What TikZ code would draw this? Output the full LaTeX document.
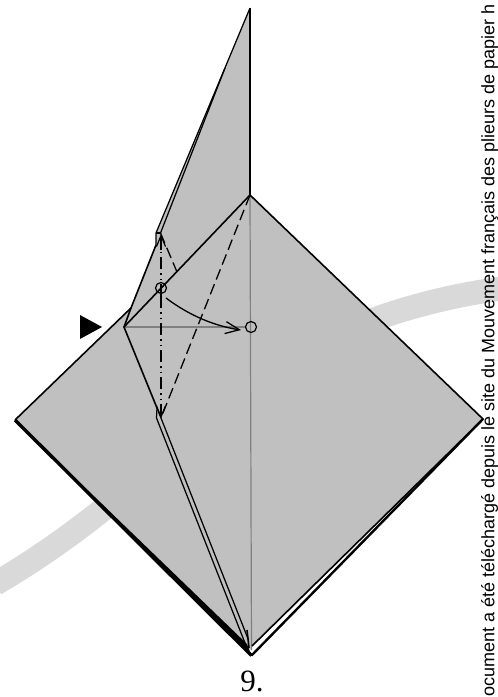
\documentclass[tikz,border=0pt]{standalone}
\usepackage{fontspec}
\setmainfont{Liberation Serif}
\newfontfamily\sidefont{Liberation Sans}
\usetikzlibrary{arrows.meta}
\definecolor{paper}{HTML}{C0C0C0}
\definecolor{band}{HTML}{D9D9D9}
\definecolor{crease}{HTML}{808080}
\tikzset{
  edge/.style={draw=black,line width=1.6pt,line join=miter},
  fine edge/.style={draw=black,line width=1.25pt,line join=miter},
  thick edge/.style={draw=black,line width=2.4pt},
  heavy edge/.style={draw=black,line width=3.4pt},
  xray/.style={draw=crease,line width=1.2pt},
  valley/.style={draw=black,line width=1.3pt,dash pattern=on 11pt off 5pt},
  mountain/.style={draw=black,line width=1.2pt,dash pattern=on 12pt off 4pt on 1.5pt off 4pt on 1.5pt off 4pt},
  ref mark/.style={circle,draw=black,line width=1.2pt,minimum size=11pt,inner sep=0pt},
  barb/.style={-{Straight Barb[length=11pt,width=9pt,line width=1.2pt]}},
  big barb/.style={-{Straight Barb[length=14pt,width=12pt,line width=1.3pt]}},
}
\begin{document}
\begin{tikzpicture}[x=1pt,y=-1pt]
\useasboundingbox (0,0) rectangle (498,697);
\begin{scope}
\clip (0,0) rectangle (498,697);
\draw[band,line width=24pt] (-5,584) .. controls (90,528) and (150,470) .. (230,400) .. controls (290,350) and (380,305) .. (505,288);
\coordinate (top) at (250,8);
\coordinate (cen) at (250,195);
\coordinate (R) at (483,419);
\coordinate (B) at (251.5,655.5);
\coordinate (Bi) at (252,646);
\coordinate (L) at (15,420);
\coordinate (P) at (124,327);
\coordinate (Q) at (131,308);
\coordinate (U1) at (156,245);
\coordinate (U2) at (156,233);
\coordinate (U3) at (160.5,233);
\coordinate (U4) at (225,68);
\coordinate (D1) at (157,408);
\coordinate (D2) at (156.5,418);
\coordinate (D3) at (161,418);
\coordinate (E1) at (245,643);
\coordinate (E2) at (248.5,640);
\coordinate (E3) at (247,630);
\coordinate (E4) at (249,648);
\fill[paper] (top) -- (cen) -- (R) -- (Bi) -- (250,650) -- (L) -- (Q) -- (U1) -- (U2) -- cycle;
\draw[xray] (cen) -- (251.5,650);
\draw[xray] (P) -- (246,327);
\draw[edge] (top) -- (cen) -- (R) -- (Bi);
\draw[edge] (cen) -- (P) -- (D1);
\draw[fine edge] (D1) -- (D2) -- (E1);
\draw[fine edge] (D1) -- (D3) -- (E2);
\draw[edge] (Q) -- (P);
\draw[edge] (L) -- (Q) -- (U1);
\draw[fine edge] (U1) -- (U2) -- (top);
\draw[fine edge] (U3) -- (U4);
\draw[fine edge] (U2) -- (U3);
\fill[black] (L) -- (247,644) -- (B) -- cycle;
\draw[thick edge] (R) -- (B);
\draw[heavy edge] (B) -- (L);
\draw[edge] (E3) -- (E4);
\draw[valley] (cen) -- (D3);
\draw[valley] (U3) -- (177,272);
\draw[mountain] (161,296) -- (161,236);
\draw[mountain] (161,296) -- (161,416);
\draw[barb,line width=1.2pt] (161,250) -- (161,234);
\draw[barb,line width=1.2pt] (161,404) -- (161,418.5);
\node[ref mark] (m1) at (161,288) {};
\node[ref mark] (m2) at (251,327) {};
\draw[big barb,line width=1.3pt] (166,298) .. controls (190,316) and (215,326) .. (241,330);
\fill[black] (80,315) -- (102,327) -- (80,339) -- cycle;
\node[font=\fontsize{31}{31}\selectfont,anchor=base,inner sep=0pt] (num) at (252,691) {9.};
\node[font=\sidefont\fontsize{18}{18}\selectfont,rotate=90,anchor=base west,inner sep=0pt] (side) at (494.3,697) {ocument a été téléchargé depuis le site du Mouvement français des plieurs de papier h};
\end{scope}
\end{tikzpicture}
\end{document}
